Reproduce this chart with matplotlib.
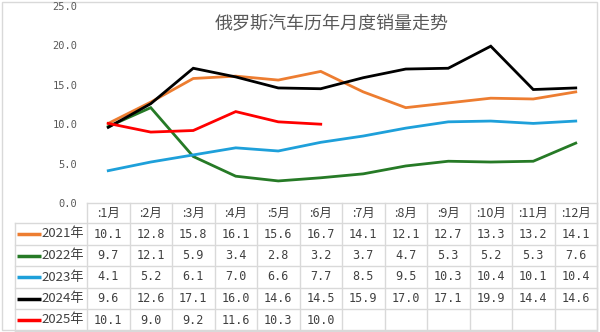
# 俄罗斯汽车历年月度销量走势：折线 + 下方数据表
import matplotlib
matplotlib.use("Agg")
import matplotlib.pyplot as plt
from matplotlib.patches import Rectangle

plt.rcParams['font.family'] = ['Noto Sans CJK SC', 'DejaVu Sans']
NUM_FONT = ['DejaVu Sans Mono']

# 数据（万辆）
months = [":1月", ":2月", ":3月", ":4月", ":5月", ":6月",
          ":7月", ":8月", ":9月", ":10月", ":11月", ":12月"]
years = ["2021年", "2022年", "2023年", "2024年", "2025年"]
sales_2021 = [10.1, 12.8, 15.8, 16.1, 15.6, 16.7, 14.1, 12.1, 12.7, 13.3, 13.2, 14.1]
sales_2022 = [9.7, 12.1, 5.9, 3.4, 2.8, 3.2, 3.7, 4.7, 5.3, 5.2, 5.3, 7.6]
sales_2023 = [4.1, 5.2, 6.1, 7.0, 6.6, 7.7, 8.5, 9.5, 10.3, 10.4, 10.1, 10.4]
sales_2024 = [9.6, 12.6, 17.1, 16.0, 14.6, 14.5, 15.9, 17.0, 17.1, 19.9, 14.4, 14.6]
sales_2025 = [10.1, 9.0, 9.2, 11.6, 10.3, 10.0]
yticks = [0, 5, 10, 15, 20, 25]

series = [sales_2021, sales_2022, sales_2023, sales_2024, sales_2025]
colors = ["#ED7D31", "#267A26", "#1EA0DA", "#000000", "#FF0000"]

W, H = 600, 332
fig = plt.figure(figsize=(W / 100, H / 100), dpi=100)

# 像素坐标的底层画布：边框 + 表格
bg = fig.add_axes([0, 0, 1, 1])
bg.set_xlim(0, W)
bg.set_ylim(H, 0)
bg.axis('off')
bg.add_patch(Rectangle((2, 2), 595, 328, fill=False, ec="#D9D9D9", lw=1))

# 折线区
x0, x1 = 87, 597
y_zero, y_top = 203, 6
ax = fig.add_axes([x0 / W, 1 - y_zero / H, (x1 - x0) / W, (y_zero - y_top) / H])
ax.set_xlim(-0.5, len(months) - 0.5)
ax.set_ylim(0, 25)
for s in ax.spines.values():
    s.set_visible(False)
ax.set_xticks([])
ax.set_yticks(yticks)
ax.set_yticklabels([f"{v:.1f}" for v in yticks], fontsize=7.5, color="#595959",
                   family=NUM_FONT)
ax.tick_params(axis='y', length=0, pad=7)
ax.patch.set_alpha(0)
for vals, c in zip(series, colors):
    ax.plot(range(len(vals)), vals, color=c, lw=2, solid_joinstyle='miter')

ax.text(0.48, 0.905, "俄罗斯汽车历年月度销量走势", transform=ax.transAxes,
        ha='center', va='center', fontsize=13, color="#595959")

# 数据表
grid_c = "#D9D9D9"
lab_l = 15
col_w = (x1 - x0) / len(months)
row_edges = [203, 223, 245, 266, 288, 309, 331]
txt_c = "#404040"

# 横线
bg.plot([x0, x1], [row_edges[0]] * 2, color=grid_c, lw=1)
for ry in row_edges[1:]:
    bg.plot([lab_l, x1], [ry, ry], color=grid_c, lw=1)
# 竖线
bg.plot([lab_l, lab_l], [row_edges[1], row_edges[-1]], color=grid_c, lw=1)
for i in range(len(months) + 1):
    cx = x0 + i * col_w
    bg.plot([cx, cx], [row_edges[0], row_edges[-1]], color=grid_c, lw=1)

# 表头
hy = (row_edges[0] + row_edges[1]) / 2
for i, m in enumerate(months):
    bg.text(x0 + (i + 0.5) * col_w, hy, m, ha='center', va='center',
            fontsize=9, color=txt_c)

# 各年份数据行
for r, (yr, vals, c) in enumerate(zip(years, series, colors)):
    cy = (row_edges[r + 1] + row_edges[r + 2]) / 2
    bg.plot([17, 41], [cy, cy], color=c, lw=2.5, solid_capstyle='butt')
    bg.text(84, cy, yr, ha='right', va='center', fontsize=9.5, color=txt_c)
    for i, v in enumerate(vals):
        bg.text(x0 + (i + 0.5) * col_w, cy, f"{v:.1f}", ha='center', va='center',
                fontsize=8.5, color=txt_c, family=NUM_FONT)

fig.savefig("out.png", dpi=100)
